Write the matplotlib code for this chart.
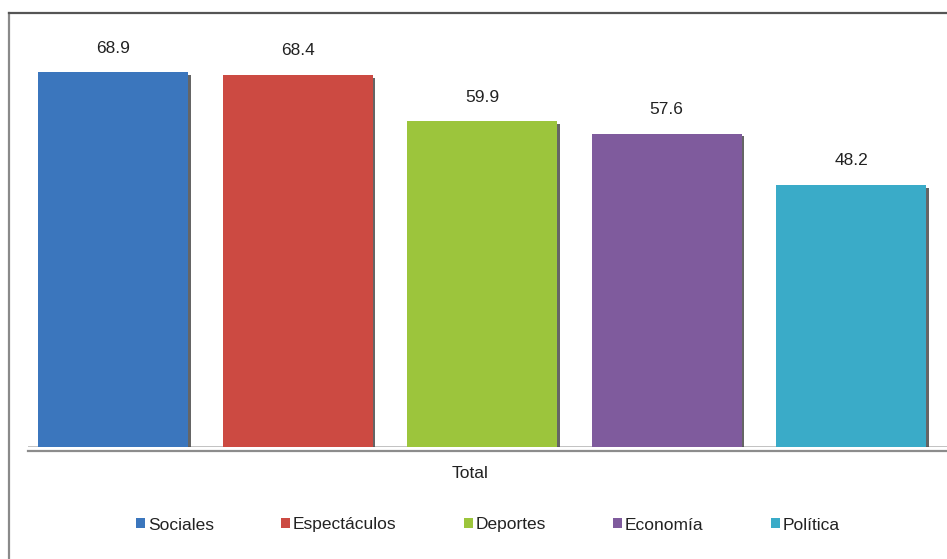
import matplotlib
matplotlib.use("Agg")
import matplotlib.pyplot as plt
import matplotlib.patheffects as pe
from matplotlib.lines import Line2D
from matplotlib.patches import Rectangle
import matplotlib.transforms as mtransforms

categories = ["Sociales", "Espectáculos", "Deportes", "Economía", "Política"]
values = [68.9, 68.4, 59.9, 57.6, 48.2]
colors = ["#3b76bd", "#cc4a42", "#9cc53c", "#7f5b9d", "#3aabc8"]
xlabel = "Total"

plt.rcParams['font.family'] = ['Liberation Sans', 'DejaVu Sans']

W, H = 947, 559
fig = plt.figure(figsize=(W / 100, H / 100), dpi=100)

# outer chart frame (left and top edges visible in the scan)
fig.add_artist(Line2D([9 / W, 9 / W], [0, 1 - 13 / H], transform=fig.transFigure,
                      color="#8a8a8a", lw=1.6))
fig.add_artist(Line2D([9 / W, 1], [1 - 13 / H, 1 - 13 / H], transform=fig.transFigure,
                      color="#555555", lw=1.6))

left = 28 / W
bottom = 1 - 447 / H
top = 1 - 20 / H
ax = fig.add_axes([left, bottom, 1 - left, top - bottom])

x = list(range(len(values)))
bars = ax.bar(x, values, width=0.813, color=colors, zorder=3)
for b in bars:
    b.set_path_effects([pe.SimplePatchShadow(offset=(2, -2), shadow_rgbFace="#4a4a4a", alpha=0.85),
                        pe.Normal()])

ax.bar_label(bars, labels=[f"{v:.1f}" for v in values], padding=12,
             fontsize=12.5, color="#222222")

ax.set_xlim(-0.461, 4.52)
ax.set_ylim(0, 78.5)
for s in ax.spines.values():
    s.set_visible(False)
ax.set_xticks([])
ax.set_yticks([])

# floor lines
ax.axhline(0, color="#b8b8b8", lw=1.2, zorder=1)
off = mtransforms.offset_copy(ax.transData, fig=fig, x=0, y=-4, units="dots")
ax.plot([-0.461, 4.52], [0, 0], transform=off, color="#8c8c8c", lw=1.6,
        zorder=1, clip_on=False)

fig.text(470 / W, 1 - 474 / H, xlabel, ha="center", va="center", fontsize=12.5, color="#222222")

handles = [Rectangle((0, 0), 1, 1, facecolor=c) for c in colors]
leg = fig.legend(handles, categories, loc="center", bbox_to_anchor=(488 / W, 1 - 525 / H),
                 ncol=5, frameon=False, fontsize=12.5, handlelength=0.5, handleheight=0.5,
                 handletextpad=0.15, columnspacing=3.9, borderpad=0)
for t in leg.get_texts():
    t.set_color("#222222")

fig.savefig("out.png", dpi=100, facecolor="white")
